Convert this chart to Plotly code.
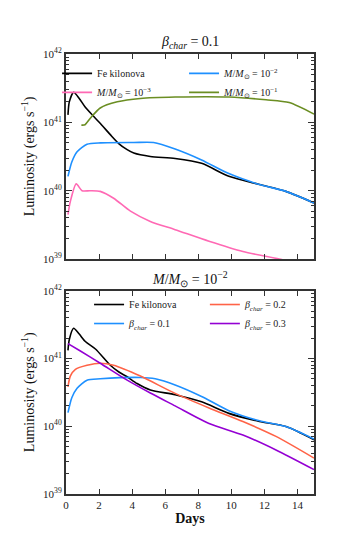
import numpy as np
import plotly.graph_objects as go

# ---------------- data (log10 luminosity, erg/s) ----------------
# Top panel: beta_char = 0.1
fe_top_days = [0.12, 0.2, 0.46, 0.8, 1.17, 1.68, 2.2, 2.68, 3.19, 3.7, 4.1, 5.1, 6.6, 8.2, 9.85, 11.7, 13.3, 15.0]
fe_top_log = [41.11, 41.30, 41.44, 41.35, 41.22, 41.085, 40.95, 40.82, 40.69, 40.60, 40.55, 40.50, 40.47, 40.40, 40.21, 40.09, 39.99, 39.82]

m2_top_days = [0.12, 0.35, 0.67, 1.27, 2.1, 4.1, 5.3, 6.6, 8.2, 9.85, 11.7, 13.3, 15.0]
m2_top_log = [40.21, 40.42, 40.57, 40.68, 40.70, 40.705, 40.705, 40.61, 40.45, 40.25, 40.09, 39.99, 39.82]

m3_days = [0.12, 0.26, 0.62, 0.97, 1.46, 2.07, 2.88, 3.9, 5.1, 6.6, 8.65, 10.7, 12.9, 15.0]
m3_log = [39.65, 39.84, 40.10, 40.00, 40.00, 39.99, 39.89, 39.70, 39.55, 39.43, 39.26, 39.11, 39.00, 38.88]

m1_days = [0.93, 1.15, 1.47, 2.07, 3.1, 4.5, 6.6, 9.85, 12.1, 13.5, 15.0]
m1_log = [40.96, 40.965, 41.06, 41.21, 41.30, 41.35, 41.37, 41.37, 41.33, 41.29, 41.12]

# Bottom panel: M/Msun = 1e-2
fe_bot_days = [0.12, 0.2, 0.46, 0.8, 1.17, 1.78, 2.68, 3.2, 3.7, 4.3, 5.1, 6.6, 8.2, 9.85, 11.7, 13.3, 15.0]
fe_bot_log = [41.12, 41.28, 41.445, 41.36, 41.25, 41.14, 40.90, 40.80, 40.73, 40.63, 40.535, 40.465, 40.36, 40.19, 40.07, 39.995, 39.80]

b1_days = [0.12, 0.35, 0.67, 1.27, 2.07, 4.5, 5.4, 6.6, 8.2, 9.85, 11.7, 13.3, 15.0]
b1_log = [40.20, 40.42, 40.56, 40.68, 40.70, 40.72, 40.70, 40.61, 40.44, 40.23, 40.08, 39.995, 39.81]

b2_days = [0.12, 0.26, 0.57, 1.27, 2.07, 2.88, 4.5, 6.6, 8.65, 10.7, 12.7, 15.0]
b2_log = [40.58, 40.74, 40.84, 40.90, 40.93, 40.90, 40.74, 40.485, 40.27, 40.07, 39.85, 39.53]

b3_days = [0.12, 0.87, 2.07, 3.7, 5.1, 6.6, 8.65, 10.7, 12.7, 15.0]
b3_log = [41.22, 41.11, 40.93, 40.68, 40.49, 40.30, 40.04, 39.87, 39.65, 39.36]

y_tickvals = [1e39, 1e40, 1e41, 1e42]
y_ticktext = ["10<sup>39</sup>", "10<sup>40</sup>", "10<sup>41</sup>", "10<sup>42</sup>"]
x_tickvals = [0, 2, 4, 6, 8, 10, 12, 14]

# ---------------- styles ----------------
BLACK = "#000000"
PINK = "#ff69b4"
BLUE = "#1e90ff"
OLIVE = "#6b8e23"
TOMATO = "#ff6347"
VIOLET = "#9400d3"
FONT = "Liberation Serif"
AX = "#333333"

fig = go.Figure()


def add(days, logs, color, name, xa, ya, legend):
    fig.add_trace(go.Scatter(
        x=days, y=np.power(10.0, logs), mode="lines", name=name,
        line=dict(color=color, width=1.6, shape="spline", smoothing=0.7),
        xaxis=xa, yaxis=ya, legend=legend))


add(fe_top_days, fe_top_log, BLACK, "Fe kilonova", "x", "y", "legend")
add(m3_days, m3_log, PINK, "<i>M</i>/<i>M</i><sub>⊙</sub> = 10<sup>−3</sup>", "x", "y", "legend")
add(m2_top_days, m2_top_log, BLUE, "<i>M</i>/<i>M</i><sub>⊙</sub> = 10<sup>−2</sup>", "x", "y", "legend2")
add(m1_days, m1_log, OLIVE, "<i>M</i>/<i>M</i><sub>⊙</sub> = 10<sup>−1</sup>", "x", "y", "legend2")

add(fe_bot_days, fe_bot_log, BLACK, "Fe kilonova", "x2", "y2", "legend3")
add(b1_days, b1_log, BLUE, "<i>β<sub>char</sub></i> = 0.1", "x2", "y2", "legend3")
add(b2_days, b2_log, TOMATO, "<i>β<sub>char</sub></i> = 0.2", "x2", "y2", "legend4")
add(b3_days, b3_log, VIOLET, "<i>β<sub>char</sub></i> = 0.3", "x2", "y2", "legend4")

xcommon = dict(range=[0, 15], tickvals=x_tickvals, ticks="inside", ticklen=5, tickwidth=1,
               tickcolor=AX, showline=True, linecolor=AX, linewidth=2, mirror="allticks",
               showgrid=False, zeroline=False, automargin=False,
               tickfont=dict(family=FONT, size=11, color="#222"))
ycommon = dict(type="log", range=[39, 42], tickvals=y_tickvals, ticktext=y_ticktext,
               ticks="inside", ticklen=6, tickwidth=1, tickcolor=AX, showline=True,
               linecolor=AX, linewidth=2, mirror="allticks", showgrid=False, zeroline=False,
               automargin=False,
               minor=dict(ticks="inside", ticklen=3, tickcolor=AX, dtick="D1", showgrid=False),
               tickfont=dict(family=FONT, size=11, color="#222"))

legfont = dict(family=FONT, size=10, color="#222")
legcommon = dict(bgcolor="rgba(0,0,0,0)", font=legfont, tracegroupgap=0, itemwidth=30,
                 xanchor="left", yanchor="top")

YTITLE = "Luminosity (ergs s<sup>−1</sup>)"
title_font = dict(family=FONT, size=14, color="#111")

fig.update_layout(
    width=342, height=542,
    margin=dict(l=58, r=36, t=46, b=56),
    paper_bgcolor="white", plot_bgcolor="white",
    showlegend=True,
    xaxis=dict(domain=[0, 1], anchor="y", showticklabels=False, **xcommon),
    yaxis=dict(domain=[0.534, 1], anchor="x", **ycommon),
    xaxis2=dict(domain=[0, 1], anchor="y2", showticklabels=True,
                title=dict(text="<b>Days</b>", font=title_font, standoff=2),
                **xcommon),
    yaxis2=dict(domain=[0, 0.462], anchor="x2", **ycommon),
    legend=dict(x=-0.036, y=0.989, **legcommon),
    legend2=dict(x=0.476, y=0.989, **legcommon),
    legend3=dict(x=0.093, y=0.4636, **legcommon),
    legend4=dict(x=0.56, y=0.4636, **legcommon),
    annotations=[
        dict(text="<i>β<sub>char</sub></i> = 0.1", x=0.5, y=1.0, xref="paper", yref="paper",
             xanchor="center", yanchor="bottom", yshift=1, showarrow=False, font=title_font),
        dict(text="<i>M</i>/<i>M</i><sub>⊙</sub> = 10<sup>−2</sup>", x=0.5, y=0.462, xref="paper", yref="paper",
             xanchor="center", yanchor="bottom", yshift=0, showarrow=False, font=title_font),
        dict(text=YTITLE, x=-0.15, y=0.767, xref="paper", yref="paper", textangle=-90,
             xanchor="center", yanchor="middle", showarrow=False, font=title_font),
        dict(text=YTITLE, x=-0.15, y=0.231, xref="paper", yref="paper", textangle=-90,
             xanchor="center", yanchor="middle", showarrow=False, font=title_font),
    ],
)

fig.write_html("out.html")
